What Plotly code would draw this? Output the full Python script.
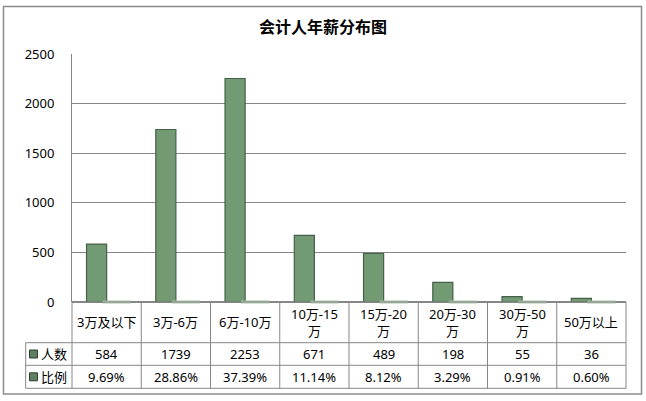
import plotly.graph_objects as go

categories = ["3万及以下", "3万-6万", "6万-10万", "10万-15万", "15万-20万", "20万-30万", "30万-50万", "50万以上"]
header_labels = ["3万及以下", "3万-6万", "6万-10万", "10万-15<br>万", "15万-20<br>万", "20万-30<br>万", "30万-50<br>万", "50万以上"]
counts = [584, 1739, 2253, 671, 489, 198, 55, 36]
ratios = [0.0969, 0.2886, 0.3739, 0.1114, 0.0812, 0.0329, 0.0091, 0.0060]
ratio_labels = ["9.69%", "28.86%", "37.39%", "11.14%", "8.12%", "3.29%", "0.91%", "0.60%"]
series_names = ["人数", "比例"]
y_ticks = [0, 500, 1000, 1500, 2000, 2500]

W, H = 646, 401
L, R, T, B = 72, 20, 54, 99
PW = W - L - R
PH = H - T - B
BARGAP = 0.42

def px(x):
    return (x - L) / PW

def py(y):
    return (H - B - y) / PH

FONT = "Noto Sans, Noto Sans CJK SC, sans-serif"
GRID = "#878787"

fig = go.Figure()
fig.add_trace(go.Bar(x=categories, y=counts, name=series_names[0],
                     marker=dict(color="#729a73", line=dict(color="#44604a", width=1.2))))
fig.add_trace(go.Bar(x=categories, y=ratios, name=series_names[1],
                     marker=dict(color="#b5cdb5", line=dict(color="#a4bfa4", width=2))))
# the 比例 bars are ~0 tall on this scale; show their flat sliver like the original
n = len(categories)
bar_w_frac = (1 - BARGAP) / 2
fig.add_trace(go.Scatter(x=[i + bar_w_frac / 2 for i in range(n)], y=ratios, xaxis="x2",
                         mode="markers", hoverinfo="skip", cliponaxis=False,
                         marker=dict(symbol="line-ew", size=bar_w_frac * PW / n,
                                     line=dict(color="#aac3aa", width=3))))

shapes = []
row_tops = [302, 342.7, 365.3, 388.3]
for i, yy in enumerate(row_tops):
    x0 = 72.3 if i == 0 else 25.7
    shapes.append(dict(type="line", xref="paper", yref="paper", x0=px(x0), x1=1,
                       y0=py(yy), y1=py(yy), line=dict(color=GRID, width=1)))
for i in range(n + 1):
    xx = i / n
    shapes.append(dict(type="line", xref="paper", yref="paper", x0=xx, x1=xx,
                       y0=py(302), y1=py(388.3), line=dict(color=GRID, width=1)))
shapes.append(dict(type="line", xref="paper", yref="paper", x0=px(25.7), x1=px(25.7),
                   y0=py(342.7), y1=py(388.3), line=dict(color=GRID, width=1)))
shapes.append(dict(type="rect", xref="paper", yref="paper", x0=px(3.5), x1=px(641.5),
                   y0=py(394), y1=py(6.5), line=dict(color="#8c8c8c", width=1.5)))
for yy in [354, 376.8]:
    shapes.append(dict(type="rect", xref="paper", yref="paper", x0=px(29.5), x1=px(37.5),
                       y0=py(yy + 4), y1=py(yy - 4), fillcolor="#5d7f5f",
                       line=dict(color="#2f3f30", width=1)))

annotations = []
row_centers = [322.3, 354.0, 376.8]
txt_font = dict(family=FONT, size=13, color="#000")
for i, c in enumerate(categories):
    for text, yc in [(header_labels[i], row_centers[0]), (str(counts[i]), row_centers[1]),
                     (ratio_labels[i], row_centers[2])]:
        annotations.append(dict(x=c, xref="x", y=py(yc), yref="paper", xanchor="center",
                                yanchor="middle", text=text, showarrow=False, font=txt_font))
for name, yy in zip(series_names, row_centers[1:]):
    annotations.append(dict(x=px(38.5), xref="paper", y=py(yy), yref="paper", xanchor="left",
                            yanchor="middle", text=name, showarrow=False, font=txt_font))

fig.update_layout(
    width=W, height=H,
    margin=dict(l=L, r=R, t=T, b=B),
    paper_bgcolor="white", plot_bgcolor="white",
    title=dict(text="<b>会计人年薪分布图</b>", x=0.5, xref="container", xanchor="center",
               y=1 - 27 / H, yanchor="middle",
               font=dict(family="Noto Sans CJK SC", size=16, color="#000")),
    showlegend=False,
    barmode="group", bargap=BARGAP, bargroupgap=0,
    xaxis=dict(showticklabels=False, showgrid=False, showline=False, zeroline=False, ticks=""),
    xaxis2=dict(overlaying="x", range=[-0.5, n - 0.5], visible=False),
    yaxis=dict(range=[0, 2500], tickvals=y_ticks, showgrid=True, gridcolor=GRID, gridwidth=1,
               showline=True, linecolor=GRID, linewidth=1, zeroline=True, zerolinecolor=GRID,
               ticks="", ticklabelstandoff=14,
               tickfont=dict(family=FONT, size=13, color="#000")),
    shapes=shapes, annotations=annotations,
)

fig.write_html("out.html", config={"displayModeBar": False},
               post_script="document.body.style.margin='0';document.body.style.overflow='hidden';")
